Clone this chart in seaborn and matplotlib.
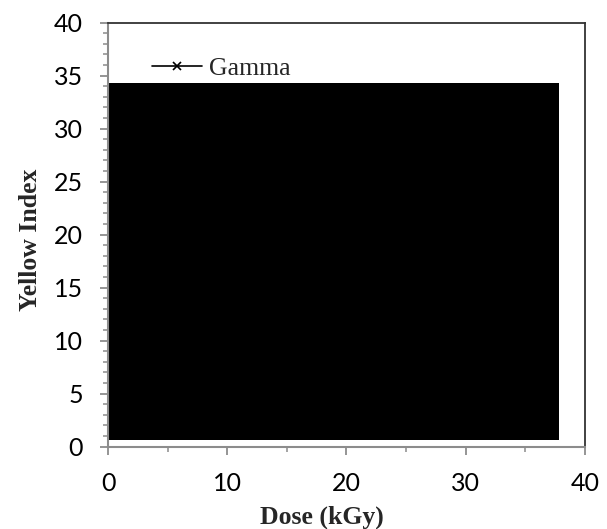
import matplotlib
matplotlib.use("Agg")
import matplotlib.pyplot as plt
import seaborn as sns
from matplotlib.lines import Line2D
from matplotlib.ticker import MultipleLocator

# filled region of the Gamma series as it appears in the picture
dose = [0.0, 37.8]
yellow_low = [0.6, 0.6]
yellow_high = [34.3, 34.3]
series_name = "Gamma"

sns.set_style("ticks")
plt.rcParams["font.family"] = ["Lato", "DejaVu Sans"]

fig = plt.figure(figsize=(6.07, 5.29), dpi=100)
ax = fig.add_axes([0.178, 0.1556, 0.7855, 0.8015])

ax.fill_between(dose, yellow_low, yellow_high, color="black", linewidth=0)

ax.set_xlim(0, 40)
ax.set_ylim(0, 40)
ax.xaxis.set_major_locator(MultipleLocator(10))
ax.xaxis.set_minor_locator(MultipleLocator(5))
ax.yaxis.set_major_locator(MultipleLocator(5))
ax.yaxis.set_minor_locator(MultipleLocator(1))

grey = "#8c8c8c"
for side in ["left", "bottom"]:
    ax.spines[side].set_color(grey)
    ax.spines[side].set_linewidth(1.5)
for side in ["top", "right"]:
    ax.spines[side].set_color("#333333")
    ax.spines[side].set_linewidth(1.3)

ax.tick_params(which="major", direction="out", length=6, width=1.3, color=grey,
               labelsize=18, labelcolor="black")
ax.tick_params(which="minor", direction="out", length=3.5, width=1.1, color=grey)
ax.tick_params(axis="y", which="major", pad=12)
ax.tick_params(axis="x", which="major", pad=12)

ax.set_xlabel("Dose (kGy)", family="Liberation Serif", fontweight="bold", fontsize=18.5)
ax.set_ylabel("Yellow Index", family="Liberation Serif", fontweight="bold", fontsize=18.5)
ax.xaxis.set_label_coords(0.449, -0.138)
ax.yaxis.set_label_coords(-0.139, 0.4875)

handle = Line2D([], [], color="black", linewidth=1.2, marker="x", markersize=6,
                markeredgewidth=1.2)
ax.legend([handle], [series_name], loc="center left", bbox_to_anchor=(0.093, 0.892),
          frameon=False, borderpad=0, borderaxespad=0, handlelength=1.95,
          handletextpad=0.25, prop={"family": "Liberation Serif", "size": 18.5})

fig.savefig("out.png", dpi=100)
